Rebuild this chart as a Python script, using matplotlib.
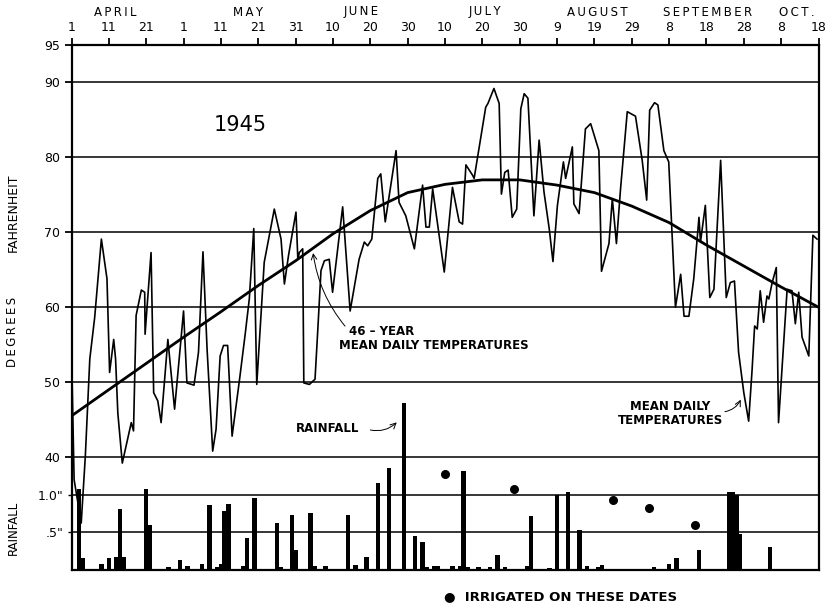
import numpy as np
import matplotlib.pyplot as plt
from matplotlib.transforms import blended_transform_factory

# days counted from April 1 (day 0) to October 18 (day 200)
tick_days = list(range(0, 201, 10))
tick_labels = ['1', '11', '21', '1', '11', '21', '31', '10', '20', '30',
               '10', '20', '30', '9', '19', '29', '8', '18', '28', '8', '18']
month_names = ['APRIL', 'MAY', 'JUNE', 'JULY', 'AUGUST', 'SEPTEMBER', 'OCT.']
month_label_days = [11.6, 47.2, 77.6, 110.6, 140.9, 170.3, 194.3]

# 1945 mean daily temperature, read at the turning points of the trace
temp_days = [0, 0.7, 2.6, 3.7, 4.9, 6.2, 8.0, 9.5, 10.2, 11.3, 11.8, 12.4, 13.6,
             16.0, 16.6, 17.3, 18.7, 19.6, 19.7, 21.3, 22.0, 23.1, 24.0, 25.8,
             27.6, 30.0, 30.9, 32.8, 34.0, 35.2, 36.3, 37.8, 38.7, 39.8, 40.7,
             41.8, 43.0, 45.0, 46.5, 47.6, 48.8, 49.6, 51.6, 54.3, 56.1, 57.0,
             58.1, 60.1, 60.6, 61.0, 61.9, 62.2, 63.7, 65.2, 65.9, 66.8, 67.7,
             69.0, 69.9, 72.6, 74.6, 77.0, 78.4, 79.3, 80.4, 82.0, 82.8, 84.0,
             86.9, 87.7, 89.5, 91.8, 94.0, 94.9, 95.8, 96.7, 99.8, 102.0, 103.8,
             104.7, 105.6, 107.4, 107.8, 109.1, 110.9, 111.5, 113.1, 114.5,
             115.1, 116.0, 116.9, 118.0, 119.2, 120.3, 121.2, 122.2, 123.8,
             125.2, 126.5, 127.9, 128.9, 130.1, 131.7, 132.3, 134.1, 134.5,
             135.9, 137.6, 139.0, 141.2, 141.9, 143.9, 144.8, 145.9, 147.0,
             148.8, 151.0, 152.8, 154.0, 154.8, 156.1, 157.0, 158.6, 159.9,
             161.7, 163.1, 164.0, 165.3, 166.6, 168.0, 168.4, 169.7, 170.9,
             172.0, 173.8, 175.3, 176.4, 177.5, 178.6, 180.0, 181.3, 182.2,
             182.9, 183.6, 184.4, 185.3, 186.2, 186.7, 187.6, 188.7, 189.3,
             191.6, 192.9, 193.8, 194.7, 195.6, 197.4, 198.5, 199.6]
temp_vals = [54.2, 37.0, 31.2, 40.1, 53.1, 58.6, 69.1, 63.8, 51.3, 55.7, 53.1, 45.9, 39.2,
             44.6, 43.5, 58.9, 62.3, 62.0, 56.4, 67.3, 48.6, 47.5, 44.6, 55.7,
             46.4, 59.5, 49.9, 49.6, 54.0, 67.4, 54.4, 40.8, 43.7, 53.5, 54.9,
             54.9, 42.8, 50.4, 56.4, 61.1, 70.5, 49.7, 66.0, 73.1, 69.1, 63.1,
             66.9, 72.7, 66.4, 67.3, 67.8, 49.9, 49.7, 50.4, 56.6, 64.9, 66.2,
             66.4, 62.0, 73.4, 59.5, 66.4, 68.7, 68.2, 69.1, 77.2, 77.8, 71.4,
             80.9, 74.0, 72.2, 67.8, 76.3, 70.7, 70.7, 75.8, 64.7, 76.0, 71.4,
             71.1, 79.0, 77.6, 77.2, 81.2, 86.7, 87.2, 89.2, 87.2,
             75.1, 78.0, 78.3, 72.0, 73.1, 86.5, 88.5, 87.9, 72.2,
             82.3, 75.4, 70.5, 66.1, 73.6, 79.4, 77.2, 81.4, 73.8,
             72.5, 83.8, 84.5, 80.9, 64.8, 68.5, 74.5, 68.5, 75.8,
             86.1, 85.5, 79.6, 74.3, 86.3, 87.3, 87.0, 80.9, 79.4,
             60.0, 64.4, 58.8, 58.8, 63.8, 72.0, 68.7, 73.6, 61.3,
             62.4, 79.6, 61.3, 63.3, 63.5, 54.0, 48.6, 44.8, 51.5,
             57.5, 57.1, 62.2, 58.0, 61.5, 61.1, 63.3, 65.3, 44.6,
             62.4, 62.2, 57.8, 62.0, 56.0, 53.5, 69.6, 69.1]

# 46-year normal
normal_days = list(range(0, 201, 10))
normal_vals = [45.5, 49.0, 52.5, 56.0, 59.4, 62.9, 66.2, 69.8, 72.9, 75.3, 76.4,
               77.0, 77.0, 76.3, 75.3, 73.5, 71.3, 68.3, 65.5, 62.7, 60.0]

# rainfall, inches
rain_days = [2, 3, 8, 10, 12, 13, 14, 20, 21, 26, 29, 31, 35, 37, 39, 40, 41, 42,
             46, 47, 49, 55, 56, 59, 60, 64, 65, 68, 74, 76, 79, 82, 85, 89, 92,
             94, 95, 97, 98, 102, 104, 105, 106, 109, 112, 114, 116, 122, 123,
             128, 130, 133, 136, 138, 141, 142, 156, 160, 162, 168, 176, 177,
             178, 179, 187]
rain_inches = [1.08, 0.15, 0.07, 0.16, 0.17, 0.81, 0.17, 1.08, 0.60, 0.04, 0.13,
               0.05, 0.08, 0.86, 0.04, 0.08, 0.78, 0.87, 0.05, 0.42, 0.96, 0.62,
               0.04, 0.73, 0.26, 0.75, 0.05, 0.05, 0.73, 0.06, 0.17, 1.15, 1.35,
               2.22, 0.45, 0.37, 0.04, 0.05, 0.05, 0.05, 0.05, 1.31, 0.03, 0.03,
               0.03, 0.20, 0.03, 0.05, 0.71, 0.02, 1.00, 1.03, 0.53, 0.05, 0.03,
               0.06, 0.04, 0.07, 0.16, 0.26, 1.04, 1.03, 1.00, 0.47, 0.30]

# irrigation dates (plotted as dots in the rainfall strip)
irrig_days = [100.1, 118.6, 145.0, 154.5, 166.9]
irrig_level = [1.27, 1.07, 0.93, 0.82, 0.59]


def spaced(s):
    # hand lettering on the original is widely spaced
    return '\u2009'.join(s)


plt.rcParams['font.family'] = ['DejaVu Sans']
fig = plt.figure(figsize=(8.26, 6.07), dpi=100)
ax = fig.add_axes([71.5 / 826, 1 - 569.5 / 607, 747 / 826, 524.5 / 607])
ax.set_xlim(0, 200)
ax.set_ylim(25, 95)

for t in [40, 50, 60, 70, 80, 90]:
    ax.axhline(t, color='black', lw=1.1, zorder=1)

ax.plot(temp_days, temp_vals, color='black', lw=1.2, zorder=3)
ax.plot(normal_days, normal_vals, color='black', lw=2.0, zorder=4)

ax.set_yticks([40, 50, 60, 70, 80, 90, 95])
ax.set_yticklabels(['40', '50', '60', '70', '80', '90', '95'], fontsize=9)
ax.xaxis.tick_top()
ax.set_xticks(tick_days)
ax.set_xticklabels(tick_labels, fontsize=9)
ax.tick_params(axis='both', direction='out', length=5, width=1.3, pad=3)
for s in ax.spines.values():
    s.set_linewidth(1.6)

# rainfall strip on its own scale: 1 inch = 10 degrees
rx = ax.twinx()
rx.set_ylim(0, 7.0)
rx.yaxis.tick_left()
rx.set_yticks([0.5, 1.0])
rx.set_yticklabels(['.5"', '1.0"'], fontsize=9)
rx.tick_params(axis='y', direction='out', length=3, width=1.0, pad=3)
for s in rx.spines.values():
    s.set_visible(False)
for r in [0.5, 1.0]:
    rx.axhline(r, color='black', lw=1.1, zorder=1)
rx.bar(rain_days, rain_inches, width=1.2, color='black', zorder=2)
rx.scatter(irrig_days, irrig_level, s=30, color='black', zorder=5)

# annotations
ax.text(45.3, 84.3, '1945', fontsize=15, ha='center', va='center')
ax.text(74.4, 56.7, '46 – YEAR', fontsize=8.5, fontweight='bold',
        ha='left', va='center')
ax.text(71.7, 54.9, 'MEAN DAILY TEMPERATURES', fontsize=8.5, fontweight='bold',
        ha='left', va='center')
ax.annotate('', xy=(64.6, 67.6), xytext=(73.7, 57.2),
            arrowprops=dict(arrowstyle='->', lw=0.7,
                            connectionstyle='arc3,rad=-0.15'))
ax.text(60.0, 43.8, 'RAINFALL', fontsize=8.5, fontweight='bold',
        ha='left', va='center')
ax.annotate('', xy=(87.6, 44.9), xytext=(79.3, 43.7),
            arrowprops=dict(arrowstyle='->', lw=0.7,
                            connectionstyle='arc3,rad=0.3'))
ax.text(160.4, 45.8, 'MEAN DAILY\nTEMPERATURES', fontsize=8.5, fontweight='bold',
        ha='center', va='center', linespacing=1.1)
ax.annotate('', xy=(179.5, 48.0), xytext=(174.2, 46.0),
            arrowprops=dict(arrowstyle='->', lw=0.7,
                            connectionstyle='arc3,rad=0.3'))

trans = blended_transform_factory(ax.transData, fig.transFigure)
for name, d in zip(month_names, month_label_days):
    ax.text(d, 1 - 12 / 607, spaced(name), transform=trans, fontsize=8.5,
            ha='center', va='center')

fig.text(13 / 826, 1 - 213 / 607, 'FAHRENHEIT', rotation=90,
         fontsize=9, ha='center', va='center')
fig.text(13 / 826, 1 - 332 / 607, spaced('DEGREES'), rotation=90, fontsize=8.5,
         ha='center', va='center')
fig.text(13 / 826, 1 - 528 / 607, 'RAINFALL', rotation=90, fontsize=8.5,
         ha='center', va='center')
fig.text(444 / 826, 1 - 597 / 607, '●  IRRIGATED ON THESE DATES',
         fontsize=9.5, fontweight='bold', ha='left', va='center')

fig.savefig('out.png', dpi=100, facecolor='white')
